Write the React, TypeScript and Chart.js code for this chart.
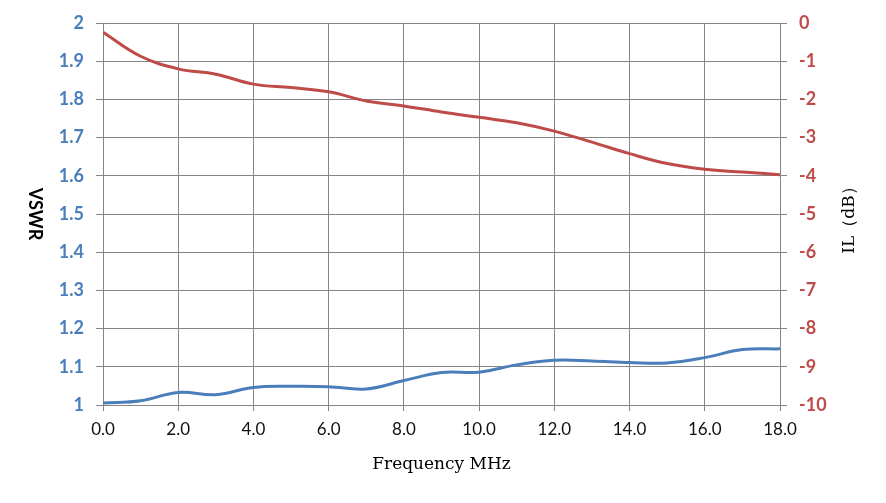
import { useEffect, useRef } from 'react';
import { Chart, registerables } from 'chart.js';

Chart.register(...registerables);

// frequency in MHz
const freq = [0, 1, 2, 3, 4, 5, 6, 7, 8, 9, 10, 11, 12, 13, 14, 15, 16, 17, 18];
const vswr = [1.005, 1.011, 1.033, 1.027, 1.046, 1.049, 1.048, 1.042, 1.064, 1.085, 1.086, 1.105, 1.117, 1.115, 1.111, 1.110, 1.124, 1.145, 1.147];
const insertionLoss = [-0.24, -0.87, -1.2, -1.34, -1.6, -1.69, -1.8, -2.04, -2.17, -2.33, -2.47, -2.61, -2.83, -3.12, -3.42, -3.68, -3.83, -3.9, -3.97];

const xTitle = 'Frequency MHz';
const leftTitle = 'VSWR';
const rightTitle = 'IL（dB）';

const BLUE = '#4A7EBB';
const RED = '#BE4B48';
const GRID = '#868686';

const axisTitles = {
	id: 'axisTitles',
	afterDraw(chart: Chart) {
		const { ctx, chartArea } = chart;
		const midY = (chartArea.top + chartArea.bottom) / 2;
		const midX = (chartArea.left + chartArea.right) / 2;
		ctx.save();
		ctx.fillStyle = '#000';
		ctx.textAlign = 'center';
		ctx.textBaseline = 'middle';

		ctx.font = 'bold 18px Lato';
		ctx.save();
		ctx.translate(chartArea.left - 68, midY);
		ctx.rotate(Math.PI / 2);
		ctx.fillText(leftTitle, 0, 0);
		ctx.restore();

		ctx.font = '17px "DejaVu Serif"';
		ctx.save();
		ctx.translate(chartArea.right + 70, midY + 2);
		ctx.rotate(-Math.PI / 2);
		ctx.fillText(rightTitle, 0, 0);
		ctx.restore();

		ctx.fillText(xTitle, midX, chartArea.bottom + 60);
		ctx.restore();
	}
};

export default function App() {
	const canvasRef = useRef<HTMLCanvasElement | null>(null);
	const chartRef = useRef<Chart | null>(null);

	useEffect(() => {
		document.body.style.margin = '0';
		if (!canvasRef.current) return;
		if (chartRef.current) chartRef.current.destroy();

		chartRef.current = new Chart(canvasRef.current, {
			type: 'line',
			data: {
				datasets: [
					{
						label: 'VSWR',
						data: freq.map((f, i) => ({ x: f, y: vswr[i] })),
						borderColor: BLUE,
						borderWidth: 3,
						pointRadius: 0,
						tension: 0.4,
						yAxisID: 'y'
					},
					{
						label: 'IL',
						data: freq.map((f, i) => ({ x: f, y: insertionLoss[i] })),
						borderColor: RED,
						borderWidth: 3,
						pointRadius: 0,
						tension: 0.4,
						yAxisID: 'y1'
					}
				]
			},
			options: {
				animation: false,
				responsive: true,
				maintainAspectRatio: false,
				layout: { padding: { top: 23 } },
				plugins: {
					legend: { display: false },
					tooltip: { enabled: false }
				},
				scales: {
					x: {
						type: 'linear',
						min: 0,
						max: 18,
						afterFit: (s: any) => { s.height = 98; },
						border: { color: GRID },
						grid: { color: GRID, tickLength: 6 },
						ticks: {
							stepSize: 2,
							padding: 8,
							color: '#111',
							font: { family: 'Lato', size: 17 },
							callback: (v: any) => Number(v).toFixed(1)
						}
					},
					y: {
						position: 'left',
						min: 1,
						max: 2,
						afterFit: (s: any) => { s.width = 103; },
						border: { color: GRID },
						grid: { color: GRID, tickLength: 7 },
						ticks: {
							stepSize: 0.1,
							padding: 12,
							color: BLUE,
							font: { family: 'Lato', size: 18, weight: 'bold' },
							callback: (v: any) => String(Math.round(Number(v) * 10) / 10)
						}
					},
					y1: {
						position: 'right',
						min: -10,
						max: 0,
						afterFit: (s: any) => { s.width = 106; },
						border: { color: GRID },
						grid: { color: GRID, tickLength: 7, drawOnChartArea: false },
						ticks: {
							stepSize: 1,
							padding: 12,
							color: RED,
							font: { family: 'Lato', size: 18, weight: 'bold' },
							callback: (v: any) => String(Math.round(Number(v)))
						}
					}
				}
			},
			plugins: [axisTitles]
		});

		return () => {
			chartRef.current?.destroy();
			chartRef.current = null;
		};
	}, []);

	return (
		<div style={{ width: '886px', height: '503px' }}>
			<canvas ref={canvasRef} />
		</div>
	);
}
